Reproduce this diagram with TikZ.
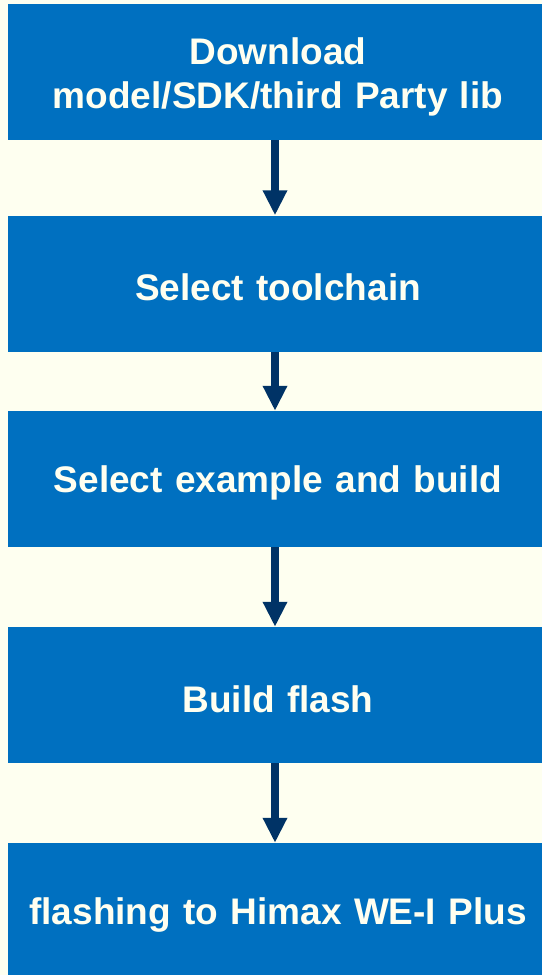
\documentclass[tikz,border=0pt]{standalone}
\usepackage{fontspec}
\setmainfont{Liberation Sans}
\usetikzlibrary{arrows.meta}
\definecolor{pagebg}{HTML}{FEFFF0}
\definecolor{boxblue}{HTML}{0070C0}
\definecolor{arrownavy}{HTML}{003366}
\definecolor{boxtext}{HTML}{FFFFF0}
\tikzset{
  stepbox/.style={fill=boxblue, draw=none, minimum width=534pt, minimum height=136pt,
    inner sep=0pt},
  steptext/.style={text=boxtext, font=\fontsize{37}{44.6}\selectfont\bfseries,
    align=center, text width=530pt, inner sep=0pt, xshift=3pt, yshift=-4pt},
  flowarrow/.style={draw=arrownavy, line width=8pt,
    -{Triangle[width=23pt,length=25pt]}, fill=arrownavy},
}
\begin{document}
\begin{tikzpicture}[x=1pt,y=-1pt]
  \fill[pagebg] (0,0) rectangle (542,975);
  \useasboundingbox (0,0) rectangle (542,975);
  \node[stepbox, label={[steptext, yshift=-1pt]center:Download\\model/SDK/third Party lib}] (b1) at (275,72) {};
  \node[stepbox, label={[steptext]center:Select toolchain}] (b2) at (275,283.5) {};
  \node[stepbox, label={[steptext]center:Select example and build}] (b3) at (275,479) {};
  \node[stepbox, label={[steptext]center:Build flash}] (b4) at (275,695) {};
  \node[stepbox, label={[steptext]center:flashing to Himax WE-I Plus}] (b5) at (275,911) {};
  \draw[flowarrow] (b1.south) -- (b2.north);
  \draw[flowarrow] (b2.south) -- (b3.north);
  \draw[flowarrow] (b3.south) -- (b4.north);
  \draw[flowarrow] (b4.south) -- (b5.north);
\end{tikzpicture}
\end{document}
